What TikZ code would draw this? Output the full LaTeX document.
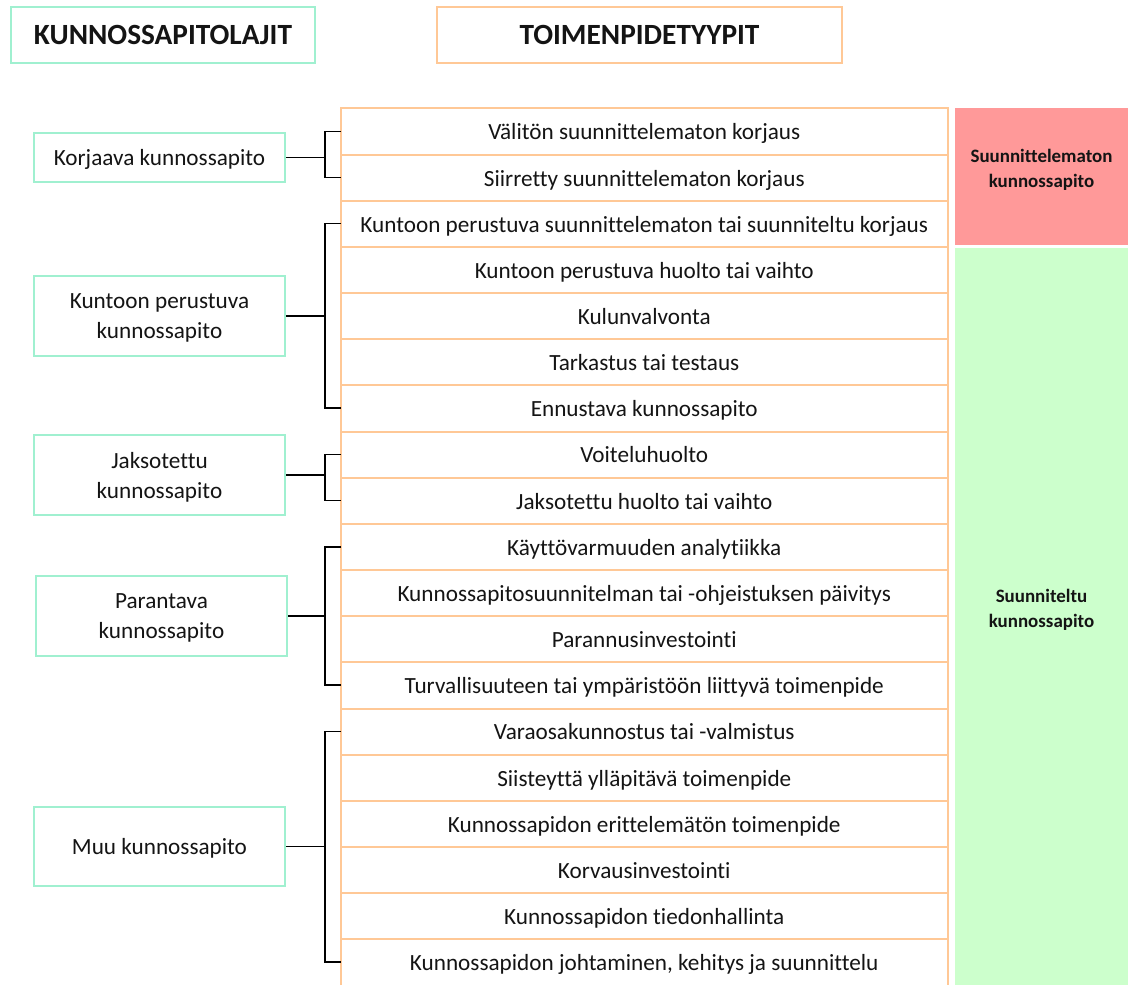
\documentclass[tikz,border=0pt]{standalone}
\usepackage{fontspec}
\setmainfont[Ligatures={NoCommon}]{Carlito}
\definecolor{mint}{RGB}{160,240,208}
\definecolor{peach}{RGB}{255,200,150}
\definecolor{redfill}{RGB}{255,153,153}
\definecolor{greenfill}{RGB}{204,255,204}
\definecolor{ink}{RGB}{20,20,20}
\begin{document}
\begin{tikzpicture}[x=0.75pt,y=-0.75pt,
  every node/.style={text=ink},
  hdr/.style={draw=#1,line width=1.5pt,fill=white,inner sep=0pt,minimum height=56*0.75pt,
    font=\fontsize{22}{26}\selectfont\bfseries},
  lbox/.style={draw=mint,line width=1.5pt,fill=white,inner sep=0pt,align=center,text depth=0pt,
    minimum width=251*0.75pt,font=\fontsize{17.4}{22.5}\selectfont},
  rowbox/.style={draw=none,inner sep=0pt,anchor=north west,minimum width=606*0.75pt,
    minimum height=46.158*0.75pt,text height=12.8pt,text depth=0pt,
    font=\fontsize{17.4}{20}\selectfont},
  tline/.style={draw=peach,line width=1.5pt},
  br/.style={draw=black,line width=1.2pt},
  cat/.style={inner sep=0pt,align=center,minimum width=173*0.75pt,text depth=0pt,
    font=\fontsize{14.2}{18.75}\selectfont\bfseries}
]
\useasboundingbox (0,0) rectangle (1128,985);
\begin{scope}
\clip (0,0) rectangle (1128,985);
% headers
\node[hdr=mint,minimum width=304*0.75pt] (h1) at (163,35) {KUNNOSSAPITOLAJIT};
\node[hdr=peach,minimum width=405*0.75pt] (h2) at (639.5,35) {TOIMENPIDETYYPIT};
% rows
\foreach \t [count=\i] in {
  {Välitön suunnittelematon korjaus},
  {Siirretty suunnittelematon korjaus},
  {Kuntoon perustuva suunnittelematon tai suunniteltu korjaus},
  {Kuntoon perustuva huolto tai vaihto},
  {Kulunvalvonta},
  {Tarkastus tai testaus},
  {Ennustava kunnossapito},
  {Voiteluhuolto},
  {Jaksotettu huolto tai vaihto},
  {Käyttövarmuuden analytiikka},
  {Kunnossapitosuunnitelman tai -ohjeistuksen päivitys},
  {Parannusinvestointi},
  {Turvallisuuteen tai ympäristöön liittyvä toimenpide},
  {Varaosakunnostus tai -valmistus},
  {Siisteyttä ylläpitävä toimenpide},
  {Kunnossapidon erittelemätön toimenpide},
  {Korvausinvestointi},
  {Kunnossapidon tiedonhallinta},
  {Kunnossapidon johtaminen, kehitys ja suunnittelu}}
  \node[rowbox] (r\i) at (341,{108+(\i-1)*46.158}) {\t};
% table lines
\draw[tline] ([yshift=-10pt]r19.south west) -- (r1.north west) -- (r1.north east) -- ([yshift=-10pt]r19.south east);
\foreach \i in {1,...,18} \draw[tline] (r\i.south west) -- (r\i.south east);
% category fills
\node[fill=redfill,minimum width=173*0.75pt,minimum height=137*0.75pt,inner sep=0pt] (red) at (1041.5,176.5) {};
\node[fill=greenfill,minimum width=173*0.75pt,minimum height=740*0.75pt,inner sep=0pt] (green) at (1041.5,618) {};
\node[cat] (redt) at (1041.5,168) {Suunnittelematon\\kunnossapito};
\node[cat] (greent) at (1041.5,608) {Suunniteltu\\kunnossapito};
% left boxes
\node[lbox,minimum height=49*0.75pt] (korj) at (159.5,157.5) {Korjaava kunnossapito};
\node[lbox,minimum height=80*0.75pt] (kunt) at (159.5,316) {Kuntoon perustuva\\kunnossapito};
\node[lbox,minimum height=80*0.75pt] (jaks) at (159.5,475) {Jaksotettu\\kunnossapito};
\node[lbox,minimum height=80*0.75pt] (para) at (161.5,616) {Parantava\\kunnossapito};
\node[lbox,minimum height=79*0.75pt] (muu) at (159.5,846.5) {Muu kunnossapito};
% brackets
\coordinate (bx) at (325,0);
\draw[br] (korj.east) -- (korj.east -| bx);
\draw[br] (r1.west) -- (r1.west -| bx) -- (r2.west -| bx) -- (r2.west);
\draw[br] (kunt.east) -- (kunt.east -| bx);
\draw[br] (r3.west) -- (r3.west -| bx) -- (r7.west -| bx) -- (r7.west);
\draw[br] (jaks.east) -- (jaks.east -| bx);
\draw[br] (r8.west) -- (r8.west -| bx) -- (r9.west -| bx) -- (r9.west);
\draw[br] (para.east) -- (para.east -| bx);
\draw[br] (r10.west) -- (r10.west -| bx) -- (r13.west -| bx) -- (r13.west);
\draw[br] (muu.east) -- (muu.east -| bx);
\draw[br] (r14.west) -- (r14.west -| bx) -- (r19.west -| bx) -- (r19.west);
\end{scope}
\end{tikzpicture}
\end{document}
